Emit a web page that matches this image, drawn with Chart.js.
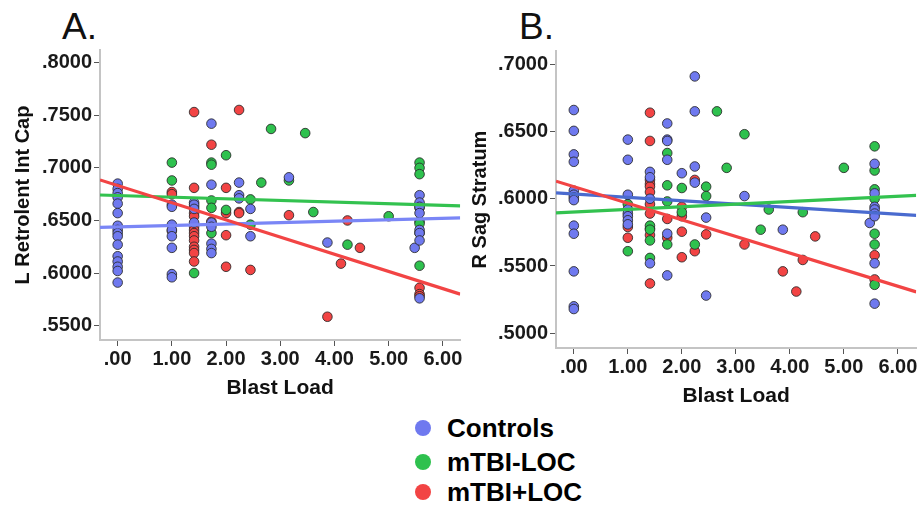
<!DOCTYPE html>
<html><head><meta charset="utf-8">
<script src="https://cdn.jsdelivr.net/npm/chart.js@4.4.0/dist/chart.umd.min.js"></script>
<style>
html,body{margin:0;padding:0;background:#fff;width:922px;height:506px;overflow:hidden;font-family:"Liberation Sans",Arial,sans-serif;}
.wrap{position:absolute;}
#wa{left:0;top:0;width:466px;height:410px;}
#wb{left:466px;top:0;width:456px;height:410px;}
.ptitle{position:absolute;font-size:37px;color:#111;line-height:37px;font-weight:normal;}
.lg{position:absolute;left:415px;height:26px;font-size:26px;font-weight:bold;color:#000;line-height:26px;white-space:nowrap;}
.lg span.dot{display:inline-block;width:16px;height:16px;border-radius:50%;vertical-align:middle;margin-right:16px;position:relative;top:-2px;}
</style>
</head><body>
<div class="ptitle" style="left:62px;top:8px;">A.</div>
<div class="ptitle" style="left:519px;top:8px;">B.</div>
<div class="wrap" id="wa"><canvas id="ca"></canvas></div>
<div class="wrap" id="wb"><canvas id="cb"></canvas></div>
<div class="lg" style="top:415px;"><span class="dot" style="background:#6f79ef"></span>Controls</div>
<div class="lg" style="top:449px;"><span class="dot" style="background:#2ec14e"></span>mTBI-LOC</div>
<div class="lg" style="top:479px;"><span class="dot" style="background:#f24444"></span>mTBI+LOC</div>
<script>
// ---------- data ----------
const groupNames = ['Controls', 'mTBI-LOC', 'mTBI+LOC'];
const xTickValues = [0, 1, 2, 3, 4, 5, 6];
const yTicksA = [0.55, 0.60, 0.65, 0.70, 0.75, 0.80];
const yTicksB = [0.50, 0.55, 0.60, 0.65, 0.70];
const xTitle = 'Blast Load';
const yTitleA = 'L Retrolent Int Cap';
const yTitleB = 'R Sag Stratum';

// Panel A: [blast load, value]
const A_controls = [
  [0,0.685],[0,0.680],[0,0.676],[0,0.672],[0,0.666],[0,0.657],[0,0.645],[0,0.641],[0,0.638],[0,0.635],[0,0.627],[0,0.616],[0,0.611],[0,0.606],[0,0.602],[0,0.591],
  [1,0.665],[1,0.663],[1,0.646],[1,0.641],[1,0.635],[1,0.624],[1,0.599],[1,0.596],
  [1.41,0.667],[1.41,0.665],[1.41,0.661],[1.41,0.648],
  [1.73,0.742],[1.73,0.684],[1.73,0.648],[1.73,0.644],[1.73,0.628],[1.73,0.623],[1.73,0.619],
  [2.24,0.686],[2.24,0.674],[2.24,0.671],
  [2.45,0.661],[2.45,0.635],
  [3.16,0.691],[3.87,0.629],[5.48,0.624],
  [5.57,0.674],[5.57,0.667],[5.57,0.663],[5.57,0.657],[5.57,0.641],[5.57,0.638],[5.57,0.631],[5.57,0.576]
];
const A_mtbiNoLoc = [
  [1,0.705],[1,0.688],
  [1.41,0.663],[1.41,0.600],
  [1.73,0.705],[1.73,0.703],[1.73,0.669],[1.73,0.662],[1.73,0.638],
  [2,0.712],[2,0.660],
  [2.45,0.670],[2.45,0.646],
  [2.65,0.686],[2.83,0.737],[3.16,0.688],[3.46,0.733],[3.61,0.658],[4.24,0.627],[5,0.654],
  [5.57,0.705],[5.57,0.700],[5.57,0.694],[5.57,0.665],[5.57,0.662],[5.57,0.649],[5.57,0.647],[5.57,0.638],[5.57,0.607]
];
const A_mtbiLoc = [
  [1,0.677],[1,0.675],[1,0.640],
  [1.41,0.753],[1.41,0.681],[1.41,0.657],[1.41,0.654],[1.41,0.644],[1.41,0.641],[1.41,0.638],[1.41,0.635],[1.41,0.631],[1.41,0.625],[1.41,0.622],[1.41,0.619],[1.41,0.611],
  [1.73,0.722],[1.73,0.649],
  [2,0.681],[2,0.657],[2,0.636],[2,0.606],
  [2.24,0.755],[2.24,0.658],[2.24,0.657],
  [2.45,0.603],[3.16,0.655],[3.87,0.5585],[4.12,0.609],[4.24,0.650],[4.47,0.624],
  [5.57,0.586],[5.57,0.580],[5.57,0.578]
];
// Panel B
const B_controls = [
  [0,0.666],[0,0.6505],[0,0.633],[0,0.6275],[0,0.606],[0,0.603],[0,0.601],[0,0.599],[0,0.580],[0,0.574],[0,0.546],[0,0.520],[0,0.518],
  [1,0.644],[1,0.629],[1,0.603],[1,0.592],[1,0.589],[1,0.587],[1,0.584],[1,0.581],
  [1.41,0.620],[1.41,0.616],[1.41,0.600],[1.41,0.552],
  [1.73,0.656],[1.73,0.644],[1.73,0.643],[1.73,0.629],[1.73,0.574],[1.73,0.543],
  [2,0.619],
  [2.24,0.691],[2.24,0.665],[2.24,0.624],[2.24,0.612],
  [2.45,0.586],[2.45,0.528],
  [3.16,0.602],[3.87,0.577],[5.48,0.582],
  [5.57,0.626],[5.57,0.604],[5.57,0.594],[5.57,0.592],[5.57,0.589],[5.57,0.587],[5.57,0.552],[5.57,0.522]
];
const B_mtbiNoLoc = [
  [1,0.596],[1,0.561],
  [1.41,0.580],[1.41,0.577],[1.41,0.569],[1.41,0.556],
  [1.73,0.634],[1.73,0.610],[1.73,0.598],[1.73,0.566],
  [2,0.608],[2,0.590],
  [2.24,0.566],
  [2.45,0.609],[2.45,0.602],
  [2.65,0.665],[2.83,0.623],[3.16,0.648],[3.46,0.577],[3.61,0.592],[4.24,0.590],[5,0.623],
  [5.57,0.639],[5.57,0.621],[5.57,0.607],[5.57,0.600],[5.57,0.574],[5.57,0.566],[5.57,0.536]
];
const B_mtbiLoc = [
  [1,0.579],[1,0.571],
  [1.41,0.664],[1.41,0.643],[1.41,0.614],[1.41,0.611],[1.41,0.609],[1.41,0.605],[1.41,0.596],[1.41,0.589],[1.41,0.578],[1.41,0.573],[1.41,0.537],
  [1.73,0.585],[1.73,0.571],
  [2,0.594],[2,0.587],[2,0.5755],[2,0.5565],
  [2.24,0.614],[2.24,0.561],
  [2.45,0.5735],[3.16,0.566],[3.87,0.546],[4.12,0.531],[4.24,0.5545],[4.47,0.572],
  [5.57,0.558],[5.57,0.540]
];
// Fit lines: [intercept, slope] for Controls, mTBI-LOC, mTBI+LOC
const A_fits = [[0.6439, 0.00134], [0.6737, -0.00156], [0.6832, -0.01633]];
const B_fits = [[0.6036, -0.00252], [0.5901, 0.00195], [0.6090, -0.01234]];

// ---------- styling ----------
const markerColors = ['#6f79ef', '#2ec14e', '#f24444'];
const lineColorsA = ['#7a86f6', '#33c24f', '#f24444'];
const lineColorsB = ['#4a6bcf', '#33c24f', '#f24444'];
const FONT = '"Liberation Sans", Arial, sans-serif';

function toPts(arr){ return arr.map(p => ({x: p[0], y: p[1]})); }

function makeChart(id, groups, fits, lineColors, xr, yr, yTicks, yTitle, geo){
  const datasets = [];
  groups.forEach((g, i) => {
    datasets.push({
      label: groupNames[i], data: toPts(g), order: 2,
      backgroundColor: markerColors[i], borderColor: 'rgba(40,40,40,0.85)', borderWidth: 1,
      pointRadius: 4.8, pointHoverRadius: 4.8
    });
  });
  fits.forEach((f, i) => {
    datasets.push({
      label: groupNames[i] + ' fit', order: 1 - i * 0.1,
      data: [{x: xr[0], y: f[0] + f[1] * xr[0]}, {x: xr[1], y: f[0] + f[1] * xr[1]}],
      showLine: true, borderColor: lineColors[i], borderWidth: 3.2, pointRadius: 0, fill: false
    });
  });
  return new Chart(document.getElementById(id), {
    type: 'scatter',
    data: { datasets },
    options: {
      responsive: true, maintainAspectRatio: false, animation: false,
      layout: { padding: { top: geo.top, right: geo.right, left: 0, bottom: 0 } },
      plugins: { legend: { display: false }, tooltip: { enabled: false }, title: { display: false } },
      scales: {
        x: {
          type: 'linear', min: xr[0], max: xr[1],
          afterBuildTicks: s => { s.ticks = xTickValues.map(v => ({value: v})); },
          afterFit: s => { s.height = geo.xh; },
          ticks: { callback: v => v.toFixed(2).replace(/^0/, ''), color: '#1a1a1a', font: { family: FONT, size: 20, weight: 'bold' }, padding: 1, maxRotation: 0, autoSkip: false },
          grid: { display: true, drawOnChartArea: false, drawTicks: true, tickLength: 6, color: '#555' },
          border: { display: true, color: '#c4c4c4', width: 2 },
          title: { display: true, text: xTitle, color: '#111', font: { family: FONT, size: 21, weight: 'bold' }, padding: { top: 0, bottom: geo.xtp } }
        },
        y: {
          type: 'linear', min: yr[0], max: yr[1],
          afterBuildTicks: s => { s.ticks = yTicks.map(v => ({value: v})); },
          afterFit: s => { s.width = geo.yw; },
          ticks: { callback: v => v.toFixed(4).replace(/^0/, ''), color: '#1a1a1a', font: { family: FONT, size: 20, weight: 'bold' }, padding: 2, autoSkip: false },
          grid: { display: true, drawOnChartArea: false, drawTicks: true, tickLength: 6, color: '#555' },
          border: { display: true, color: '#c4c4c4', width: 2 },
          title: { display: true, text: yTitle, color: '#111', font: { family: FONT, size: 20, weight: 'bold' }, padding: { top: geo.ytp, bottom: 0 } }
        }
      }
    }
  });
}

makeChart('ca', [A_controls, A_mtbiNoLoc, A_mtbiLoc], A_fits, lineColorsA,
  [-0.326, 6.32], [0.5364, 0.812], yTicksA, yTitleA,
  { top: 50, right: 5, xh: 70, yw: 100, xtp: 9.4, ytp: 11 });
makeChart('cb', [B_controls, B_mtbiNoLoc, B_mtbiLoc], B_fits, lineColorsB,
  [-0.33, 6.34], [0.489, 0.7099], yTicksB, yTitleB,
  { top: 51, right: 3, xh: 62, yw: 90, xtp: 0.7, ytp: 2 });
</script>
</body></html>
